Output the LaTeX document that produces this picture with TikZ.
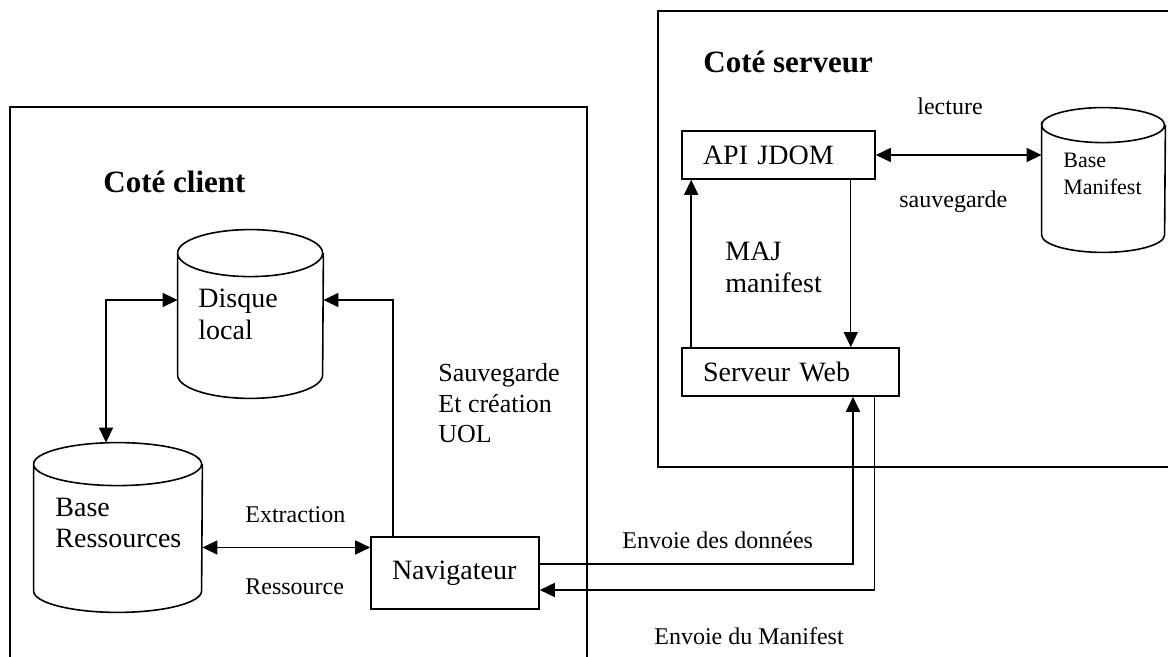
\documentclass[tikz,border=0pt]{standalone}
\usepackage{fontspec}
\setmainfont{Liberation Serif}
\usetikzlibrary{arrows.meta}

\tikzset{
  cadre/.style={line width=0.8pt},
  boite/.style={draw, line width=0.8pt, align=left, inner xsep=10.5pt,
    font=\fontsize{14}{16}\selectfont},
  bdd/.style={inner sep=0pt},
  titre/.style={font=\fontsize{15.5}{18}\selectfont\bfseries, anchor=base west, inner sep=0pt},
  texte/.style={font=\fontsize{14}{16}\selectfont, align=left, anchor=base west, inner sep=0pt},
  etiq/.style={font=\fontsize{12}{14}\selectfont, anchor=base west, inner sep=0pt},
  fleche/.style={-{Triangle[length=7.5pt,width=7pt]}, line width=0.8pt},
  double fleche/.style={{Triangle[length=7.5pt,width=7pt]}-{Triangle[length=7.5pt,width=7pt]}, line width=0.8pt}
}

% #1 noeud, #2 demi-largeur, #3 rayon vertical de l'ellipse
\newcommand{\cylindre}[3]{%
  \draw[line width=0.8pt] ([yshift=-#3]#1.north west)
    arc[start angle=180, end angle=0, x radius=#2, y radius=#3]
    arc[start angle=0, end angle=-180, x radius=#2, y radius=#3]
    -- ([yshift=#3]#1.south west)
    arc[start angle=180, end angle=360, x radius=#2, y radius=#3]
    -- ([yshift=-#3]#1.north east);
}

\begin{document}
\begin{tikzpicture}[x=0.5pt, y=-0.5pt]
  \useasboundingbox (0,0) rectangle (1168,657);
  % cadres
  \draw[cadre] (10,657) -- (10,107) -- (587,107) -- (587,657);
  \draw[cadre] (1168,11) -- (658,11) -- (658,467) -- (1168,467);
  \node[titre] (client) at (103,193) {Coté client};
  \node[titre] (serveur-t) at (703,73) {Coté serveur};

  % cote client
  \node[bdd, minimum width=72.5pt, minimum height=84pt] (disque) at (250.5,314) {};
  \cylindre{disque}{36.25pt}{11.75pt}
  \node[texte] (disque-t) at (198,340) {Disque\\local};
  \node[bdd, minimum width=84pt, minimum height=84.5pt] (ressources) at (118,527.5) {};
  \cylindre{ressources}{42pt}{10.75pt}
  \node[texte, font=\fontsize{14}{15.5}\selectfont] (ressources-t) at (55,548) {Base\\Ressources};
  \node[boite, minimum width=84pt, minimum height=36pt, text width=63pt] (navigateur) at (455,573) {Navigateur};
  \node[texte, font=\fontsize{13}{15.25}\selectfont] (uol) at (438,443) {Sauvegarde\\Et création\\UOL};
  \node[etiq] (extraction) at (245,523) {Extraction};
  \node[etiq] (ressource) at (245,595) {Ressource};

  % cote serveur
  \node[boite, minimum width=96.5pt, minimum height=24pt, text width=75.5pt] (api) at (778.5,155) {API JDOM};
  \node[boite, minimum width=108.5pt, minimum height=24pt, text width=87.5pt] (web) at (790.5,372) {Serveur Web};
  \node[bdd, minimum width=61.5pt, minimum height=72pt] (manifest) at (1103.5,180) {};
  \cylindre{manifest}{30.75pt}{8.75pt}
  \node[texte, font=\fontsize{11}{13.5}\selectfont] (manifest-t) at (1063,195) {Base\\Manifest};
  \node[etiq] (lecture) at (917,115) {lecture};
  \node[etiq] (sauvegarde) at (899,208) {sauvegarde};
  \node[texte] (maj) at (725,293) {MAJ\\manifest};
  \node[etiq] (donnees) at (622,549) {Envoie des données};
  \node[etiq] (envoi) at (654,645) {Envoie du Manifest};

  % liaisons
  \draw[double fleche] ([xshift=-6pt]ressources.north) |- ([yshift=7pt]disque.west);
  \draw[fleche] ([xshift=11.5pt]navigateur.north west) |- ([yshift=7pt]disque.east);
  \coordinate (extr) at ([yshift=-10pt]ressources.east);
  \draw[double fleche] (extr) -- (extr -| navigateur.west);
  \draw[double fleche] (api.east) -- (api.east -| manifest.west);
  \draw[fleche] ([xshift=5pt]web.north west) -- ([xshift=5pt]api.south west);
  \coordinate (majbas) at ([xshift=-12.5pt]api.south east);
  \draw[fleche, line width=0.5pt] (majbas) -- (majbas |- web.north);
  \draw[fleche] ([yshift=4.5pt]navigateur.east) -| ([xshift=31.25pt]web.south);
  \draw[fleche] ([xshift=42pt]web.south) |- ([yshift=-8.5pt]navigateur.east);
\end{tikzpicture}
\end{document}
